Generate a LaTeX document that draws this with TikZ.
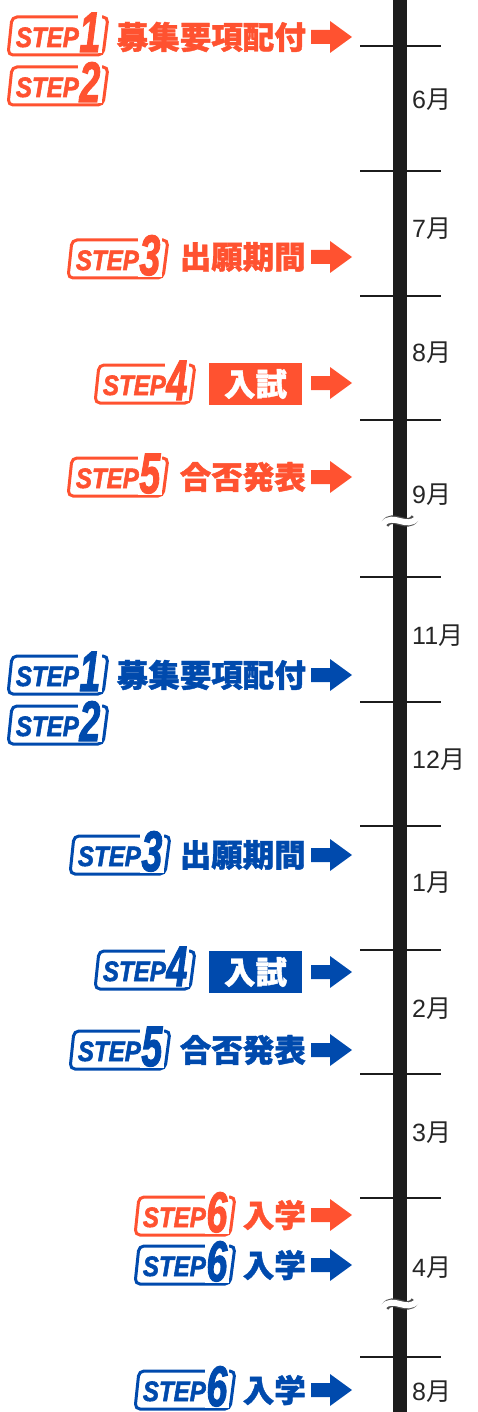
\documentclass[tikz,border=0pt]{standalone}
\usepackage{fontspec}
\setmainfont{Liberation Sans}
\newfontfamily\cjk{Noto Sans CJK JP}
\newfontfamily\cjkb{Noto Sans CJK JP}[BoldFeatures={FakeBold=1.3}]
\newfontfamily\stepfam{Liberation Sans}[BoldItalicFeatures={FakeBold=2.2}]
\definecolor{orng}{RGB}{255,82,48}
\definecolor{blu}{RGB}{0,74,173}
\definecolor{axisc}{RGB}{28,28,28}
\newcommand\stepfont{\stepfam\fontsize{28}{28}\selectfont\bfseries\itshape}
\newcommand\digfont{\stepfam\fontsize{57}{57}\selectfont\bfseries\itshape}
\newcommand\jfont{\cjkb\bfseries\fontsize{31.5}{31.5}\selectfont}
\newcommand\mfont{\fontsize{25}{25}\selectfont}
% #1 name, #2 x0, #3 yc, #4 colour, #5 digit
\newcommand\stepbadge[5]{%
 \begin{scope}[shift={(#2,#3)}]
  \draw[#4, line width=3, fill=white, rounded corners=5] (2,-19) -- (98,-19) -- (93,19) -- (-2,19) -- cycle;
  \node[anchor=base west, fill=white, inner sep=1.2, text=#4] (#1d) at (68,16) {\scalebox{0.66}[1]{\digfont #5}};
  \node[anchor=base east, inner sep=0, text=#4] (#1s) at (69,11) {\scalebox{0.86}[1]{\stepfont STEP}};
 \end{scope}}
% #1 name, #2 yc, #3 colour
\newcommand\bigarrow[3]{%
 \begin{scope}[shift={(0,#2)}]
  \fill[#3] (311,-7) -- (330,-7) -- (330,-16) -- (352,0) -- (330,16) -- (330,7) -- (311,7) -- cycle;
  \coordinate (#1) at (352,0);
 \end{scope}}
\tikzset{
 jlabel/.style={anchor=east, inner sep=0, font=\jfont},
 exambox/.style={minimum width=93, minimum height=42, inner sep=0, text=white, font=\jfont},
 month/.style={anchor=west, inner sep=0, font=\mfont, text=black!85},
 tick/.style={line width=2.5, draw=axisc},
}
\begin{document}
\begin{tikzpicture}[x=1pt,y=-1pt]
\useasboundingbox (0,0) rectangle (477,1412);
% axis
\draw[line width=14, axisc] (400,0) -- (400,1412);
\foreach \t in {46,171,296,420,577,702,826,950,1074,1198,1357}
  \draw[tick] (360,\t) -- (441,\t);
% breaks
\foreach \b in {521,1304}{
  \draw[black!70, line width=8.5] (385,\b+3) .. controls (393,\b-9) and (407,\b+9) .. (415,\b-3);
  \draw[white, line width=6] (383,\b+3) .. controls (393,\b-9) and (407,\b+9) .. (417,\b-3);
}
% months
\node[month] (m6) at (412,100) {6{\cjk 月}};
\node[month] (m7) at (412,229) {7{\cjk 月}};
\node[month] (m8) at (412,353) {8{\cjk 月}};
\node[month] (m9) at (412,495) {9{\cjk 月}};
\node[month] (m11) at (412,636) {11{\cjk 月}};
\node[month] (m12) at (412,760) {12{\cjk 月}};
\node[month] (m1) at (412,883) {1{\cjk 月}};
\node[month] (m2) at (412,1009) {2{\cjk 月}};
\node[month] (m3) at (412,1133) {3{\cjk 月}};
\node[month] (m4) at (412,1268) {4{\cjk 月}};
\node[month] (m8b) at (412,1392) {8{\cjk 月}};
% orange
\stepbadge{oa}{10}{36}{orng}{1}
\node[jlabel, text=orng] (oat) at (306,37) {募集要項配付};
\bigarrow{oaa}{37}{orng}
\stepbadge{ob}{10}{86}{orng}{2}
\stepbadge{oc}{70}{259}{orng}{3}
\node[jlabel, text=orng] (oct) at (306,257) {出願期間};
\bigarrow{oca}{257}{orng}
\stepbadge{od}{97}{384}{orng}{4}
\node[exambox, fill=orng] (odt) at (255.5,384) {入試};
\bigarrow{oda}{383}{orng}
\stepbadge{oe}{70}{477}{orng}{5}
\node[jlabel, text=orng] (oet) at (306,477) {合否発表};
\bigarrow{oea}{477}{orng}
% blue
\stepbadge{ba}{10}{675}{blu}{1}
\node[jlabel, text=blu] (bat) at (306,675) {募集要項配付};
\bigarrow{baa}{675}{blu}
\stepbadge{bb}{10}{725}{blu}{2}
\stepbadge{bc}{72}{855}{blu}{3}
\node[jlabel, text=blu] (bct) at (306,855) {出願期間};
\bigarrow{bca}{855}{blu}
\stepbadge{bd}{97}{970}{blu}{4}
\node[exambox, fill=blu] (bdt) at (255.5,972) {入試};
\bigarrow{bda}{972}{blu}
\stepbadge{be}{72}{1050}{blu}{5}
\node[jlabel, text=blu] (bet) at (306,1050) {合否発表};
\bigarrow{bea}{1050}{blu}
% step 6
\stepbadge{of}{137}{1216}{orng}{6}
\node[jlabel, text=orng] (oft) at (306,1215) {入学};
\bigarrow{ofa}{1215}{orng}
\stepbadge{bf}{137}{1265}{blu}{6}
\node[jlabel, text=blu] (bft) at (306,1265) {入学};
\bigarrow{bfa}{1265}{blu}
\stepbadge{bg}{137}{1390}{blu}{6}
\node[jlabel, text=blu] (bgt) at (306,1390) {入学};
\bigarrow{bga}{1390}{blu}
\end{tikzpicture}
\end{document}
